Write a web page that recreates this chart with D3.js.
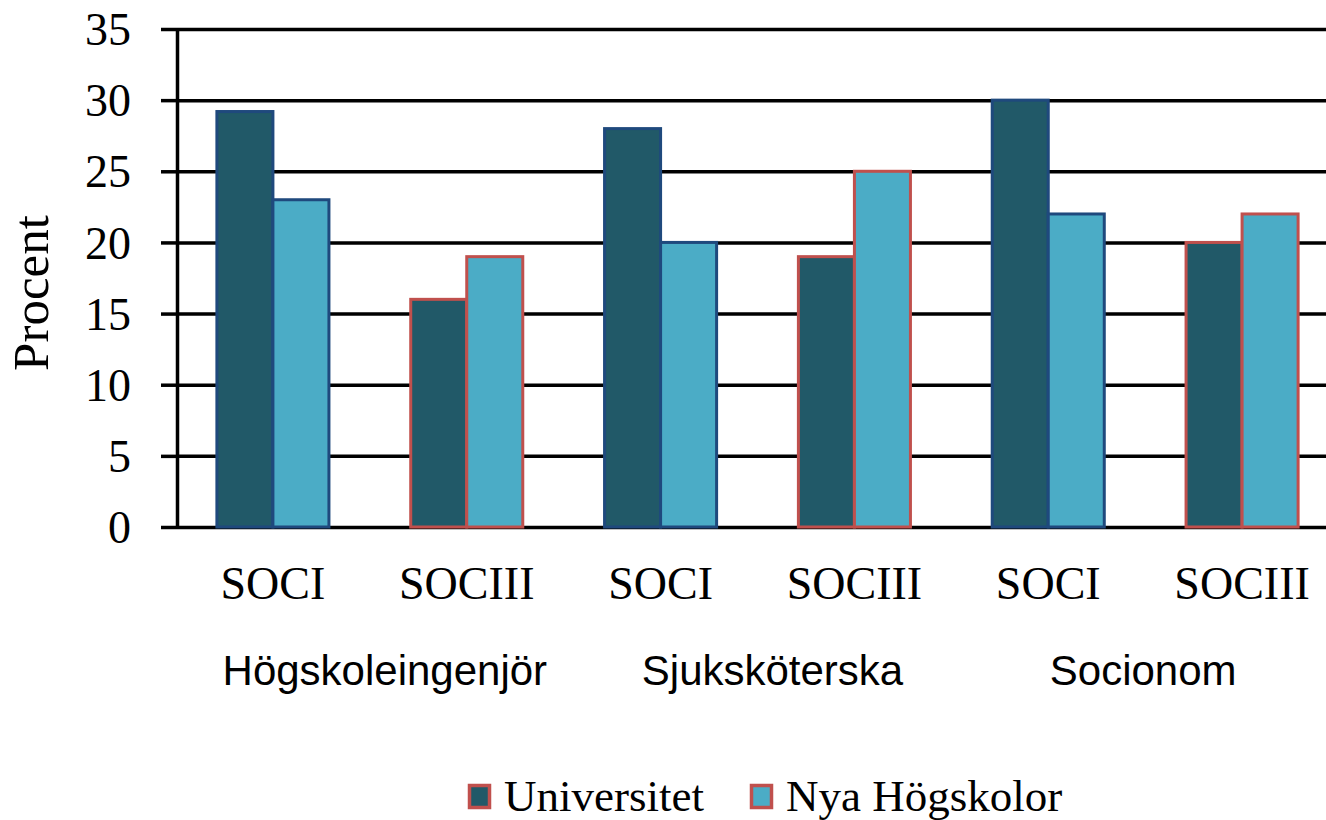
<html lang="sv"><head>
<meta http-equiv="Content-Type" content="text/html; charset=UTF-8">
<title>Procent</title>
<script type="text/javascript" src="https://cdn.jsdelivr.net/npm/d3@7"></script>
<style type="text/css">
body { margin: 0; background: #fff; }
</style>
</head>
<body>
<script type="text/javascript">

var width = 1326;
var height = 820;

var groups = ["Högskoleingenjör", "Sjuksköterska", "Socionom"];
var categories = ["SOCI", "SOCIII", "SOCI", "SOCIII", "SOCI", "SOCIII"];
var universitet = [29.2, 16, 28, 19, 30, 20];
var nyaHogskolor = [23, 19, 20, 25, 22, 22];
var seriesNames = ["Universitet", "Nya Högskolor"];
var yTicks = [0, 5, 10, 15, 20, 25, 30, 35];

var fillColors = ["#215968", "#4bacc6"];
var borderColors = { "SOCI": "#1f497d", "SOCIII": "#c0504d" };
var groupLabelShift = [15, 15, -2];

var svg = d3.select("body")
            .append("svg")
            .attr("width", width)
            .attr("height", height);

var x = d3.scaleBand()
  .domain(d3.range(categories.length))
  .range([176, 1339]);

var x1 = d3.scaleBand()
  .domain([0, 1])
  .range([0, x.bandwidth()])
  .paddingOuter(0.73);

var y = d3.scaleLinear()
  .domain([0, 35])
  .range([527, 29]);

// gridlines
svg.append("g")
  .attr("transform", "translate(177,0)")
  .call(d3.axisLeft(y).tickValues(yTicks).tickSize(-(width - 177)).tickFormat(""))
  .call(function(g){
    g.select(".domain").remove();
    g.selectAll("line").attr("stroke", "#000").attr("stroke-width", 3.5);
  });

// bars
var rows = categories.map(function(c, i){
  return { i: i, cat: c, values: [universitet[i], nyaHogskolor[i]] };
});

var barGroups = svg.selectAll(".cat")
  .data(rows).enter()
  .append("g")
  .attr("class", "cat")
  .attr("transform", function(d){ return "translate(" + x(d.i) + ",0)"; });

barGroups.selectAll("rect")
  .data(function(d){ return d.values.map(function(v, k){ return { k: k, v: v, cat: d.cat }; }); })
  .enter().append("rect")
  .attr("x", function(d){ return x1(d.k); })
  .attr("y", function(d){ return y(d.v); })
  .attr("width", x1.bandwidth())
  .attr("height", function(d){ return y(0) - y(d.v); })
  .attr("fill", function(d){ return fillColors[d.k]; })
  .attr("stroke", function(d){ return borderColors[d.cat]; })
  .attr("stroke-width", 3);

// y axis
svg.append("g")
  .attr("transform", "translate(177,0)")
  .call(d3.axisLeft(y).tickValues(yTicks).tickSize(16).tickSizeOuter(0).tickPadding(30))
  .call(function(g){
    g.select(".domain").attr("stroke", "#000").attr("stroke-width", 3.5);
    g.selectAll("line").attr("stroke", "#000").attr("stroke-width", 3.5);
    g.selectAll("text")
      .attr("font-family", "'Liberation Serif', 'Times New Roman', serif")
      .attr("font-size", 46)
      .attr("fill", "#000")
      .attr("dy", "0.34em");
  });

svg.append("text")
  .attr("transform", "translate(48,293) rotate(-90)")
  .attr("text-anchor", "middle")
  .attr("font-family", "'Liberation Serif', 'Times New Roman', serif")
  .attr("font-size", 51)
  .attr("fill", "#000")
  .text("Procent");

// category labels
svg.selectAll(".catLabel")
  .data(rows).enter()
  .append("text")
  .attr("class", "catLabel")
  .attr("x", function(d){ return x(d.i) + x.bandwidth() / 2; })
  .attr("y", 599)
  .attr("text-anchor", "middle")
  .attr("font-family", "'Liberation Serif', 'Times New Roman', serif")
  .attr("font-size", 46)
  .attr("fill", "#000")
  .text(function(d){ return d.cat; });

// group labels
svg.selectAll(".groupLabel")
  .data(groups).enter()
  .append("text")
  .attr("class", "groupLabel")
  .attr("x", function(d, i){ return x(i * 2 + 1) + groupLabelShift[i]; })
  .attr("y", 685)
  .attr("text-anchor", "middle")
  .attr("font-family", "'Liberation Sans', Arial, sans-serif")
  .attr("font-size", 42)
  .attr("fill", "#000")
  .text(function(d){ return d; });

// legend
var legendX = [468, 750];
var legend = svg.selectAll(".legend")
  .data(seriesNames).enter()
  .append("g")
  .attr("class", "legend")
  .attr("transform", function(d, i){ return "translate(" + legendX[i] + ",784)"; });

legend.append("rect")
  .attr("x", 1.5).attr("y", 1.5)
  .attr("width", 20).attr("height", 22)
  .attr("fill", function(d, i){ return fillColors[i]; })
  .attr("stroke", "#c0504d")
  .attr("stroke-width", 3.5);

legend.append("text")
  .attr("x", 36)
  .attr("y", 27)
  .attr("font-family", "'Liberation Serif', 'Times New Roman', serif")
  .attr("font-size", 45)
  .attr("fill", "#000")
  .text(function(d){ return d; });

</script>
</body></html>
